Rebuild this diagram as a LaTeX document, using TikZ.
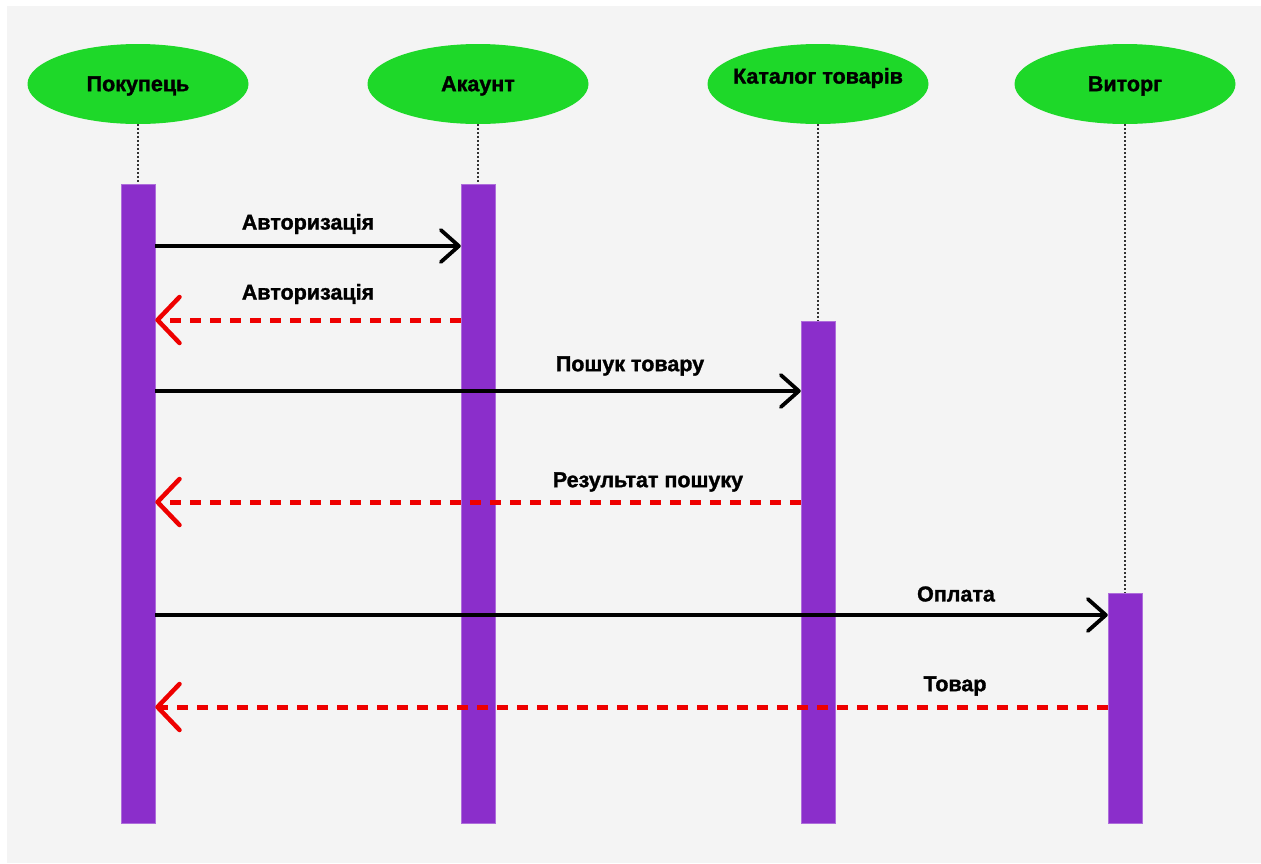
\documentclass[tikz,border=0pt]{standalone}
\usepackage{fontspec}
\setmainfont{Liberation Sans}[BoldFeatures={FakeBold=1.4}]
\usetikzlibrary{shapes.geometric,arrows.meta}
\definecolor{bggray}{HTML}{F4F4F4}
\definecolor{actgreen}{HTML}{1ED829}
\definecolor{barpurple}{HTML}{8B2ECB}
\definecolor{retred}{HTML}{EE0000}
\tikzset{
  actor/.style={ellipse, fill=actgreen, minimum width=221pt, minimum height=80pt, inner sep=0pt},
  actortext/.style={font=\fontsize{21.5}{24}\selectfont\bfseries, inner sep=0pt},
  bar/.style={rectangle, fill=barpurple, draw=barpurple!70!white, line width=0.5pt, minimum width=34pt, inner sep=0pt, anchor=north},
  lifeline/.style={draw=black!80, line width=1.3pt, dash pattern=on 2pt off 2pt},
  callmsg/.style={draw=black, line width=3.8pt, -{Straight Barb[length=18pt, width=32pt, line width=3.8pt, round]}},
  retmsg/.style={draw=retred, line width=5pt, dash pattern=on 11pt off 9pt, -{Straight Barb[length=22pt, width=46pt, line width=4.5pt, round]}},
  msglabel/.style={font=\fontsize{21.5}{24}\selectfont\bfseries, inner sep=0pt}
}
\begin{document}
\begin{tikzpicture}[x=1pt, y=-1pt]
\useasboundingbox (0,0) rectangle (1261,863);
\fill[white] (0,0) rectangle (1261,863);
\fill[bggray] (7,6) rectangle (1261,863);

% actors
\node[actor, label={[actortext, yshift=-2pt]center:Покупець}] (a1) at (138,84) {};
\node[actor, label={[actortext, yshift=-2pt]center:Акаунт}] (a2) at (478,84) {};
\node[actor, label={[actortext, yshift=6pt]center:Каталог товарів}] (a3) at (818,84) {};
\node[actor, label={[actortext, yshift=-2pt]center:Виторг}] (a4) at (1125,84) {};

% activation bars
\node[bar, minimum height=639pt] (b1) at (138,184) {};
\node[bar, minimum height=639pt] (b2) at (478,184) {};
\node[bar, minimum height=502pt] (b3) at (818,321) {};
\node[bar, minimum height=230pt] (b4) at (1125,593) {};

% lifelines
\draw[lifeline] (a1.south) -- (b1.north);
\draw[lifeline] (a2.south) -- (b2.north);
\draw[lifeline] (a3.south) -- (b3.north);
\draw[lifeline] (a4.south) -- (b4.north);

% message levels
\coordinate (m1) at (0,246);
\coordinate (m2) at (0,320);
\coordinate (m3) at (0,391);
\coordinate (m4) at (0,502);
\coordinate (m5) at (0,615);
\coordinate (m6) at (0,707);

% messages
\draw[callmsg] (b1.east |- m1) -- (b2.west |- m1);
\node[msglabel] (l1) at (308,224) {Авторизація};

\draw[retmsg] (b2.west |- m2) -- (b1.east |- m2);
\node[msglabel] (l2) at (308,294) {Авторизація};

\draw[callmsg] (b1.east |- m3) -- (b3.west |- m3);
\node[msglabel] (l3) at (630,366) {Пошук товару};

\draw[retmsg] (b3.west |- m4) -- (b1.east |- m4);
\node[msglabel] (l4) at (648,482) {Результат пошуку};

\draw[callmsg] (b1.east |- m5) -- (b4.west |- m5);
\node[msglabel] (l5) at (956,594) {Оплата};

\draw[retmsg] (b4.west |- m6) -- (b1.east |- m6);
\node[msglabel] (l6) at (955,686) {Товар};
\end{tikzpicture}
\end{document}
